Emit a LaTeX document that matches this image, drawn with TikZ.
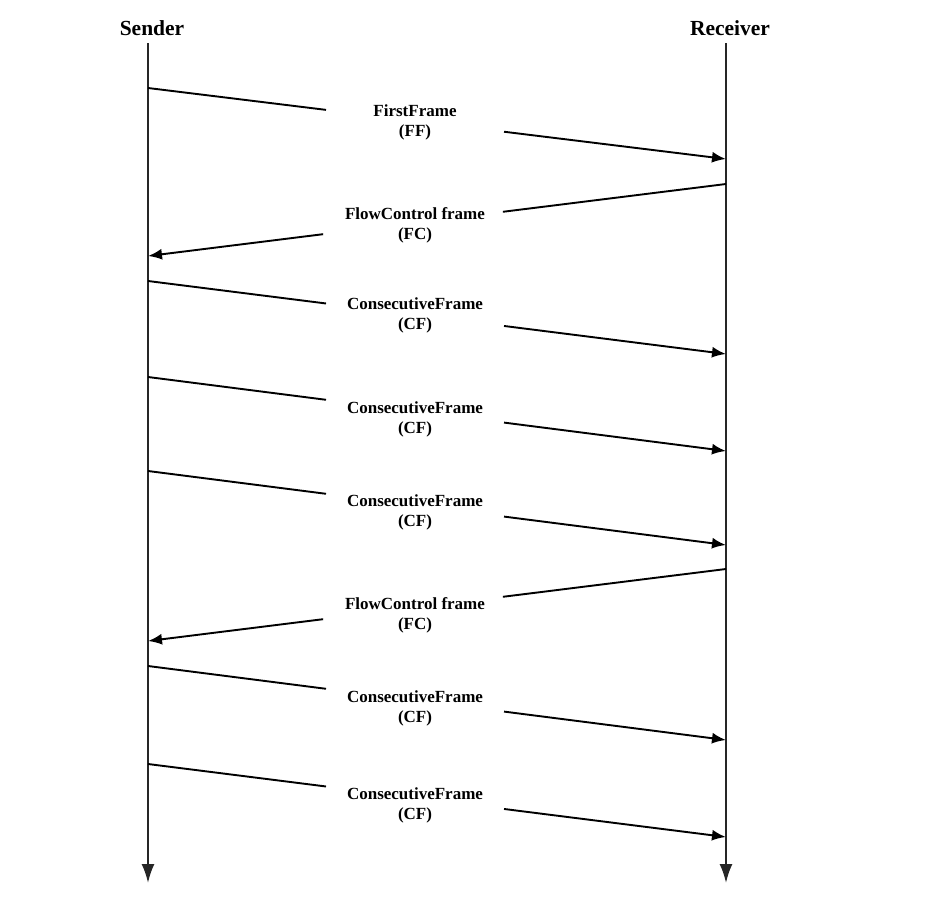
\documentclass[tikz,border=0pt]{standalone}
\usepackage{fontspec}
\setmainfont{Liberation Serif}
\usetikzlibrary{arrows.meta,calc}
\begin{document}
\begin{tikzpicture}[x=1pt,y=-1pt,
  life/.style={line width=2pt,draw=black!85,-{Latex[length=19pt,width=13pt]}},
  msg/.style={line width=1.9pt,draw=black},
  msgarrow/.style={msg,-{Latex[length=14pt,width=11pt]}},
  hdr/.style={font=\bfseries\fontsize{21.5}{24}\selectfont,inner sep=0pt},
  lbl/.style={font=\bfseries\fontsize{17}{20}\selectfont,align=center,inner sep=0pt}]
\useasboundingbox (0,0) rectangle (935,908);
\node[hdr] (sender) at (152,28) {Sender};
\node[hdr] (receiver) at (730,28) {Receiver};
\coordinate (st) at (148,43);
\coordinate (sb) at (148,883);
\coordinate (rt) at (726,43);
\coordinate (rb) at (726,883);
\draw[life] (st) -- (sb);
\draw[life] (rt) -- (rb);
% sender -> receiver
\foreach \n/\ys/\yr/\ly/\t in {
  1/88/159/122/{FirstFrame\\(FF)},
  3/281/354/315/{ConsecutiveFrame\\(CF)},
  4/377/451/419/{ConsecutiveFrame\\(CF)},
  5/471/545/512/{ConsecutiveFrame\\(CF)},
  7/666/740/708/{ConsecutiveFrame\\(CF)},
  8/764/837/805/{ConsecutiveFrame\\(CF)}}{
  \coordinate (s\n) at (148,\ys);
  \coordinate (r\n) at (726,\yr);
  \coordinate (p\n) at ($(s\n)!0.308!(r\n)$);
  \coordinate (q\n) at ($(s\n)!0.616!(r\n)$);
  \node[lbl] (l\n) at (415,\ly) {\t};
  \draw[msg] (s\n) -- (p\n);
  \draw[msgarrow] (q\n) -- (r\n);
}
% receiver -> sender
\foreach \n/\ys/\yr/\ly/\t in {
  2/256/184/225/{FlowControl frame\\(FC)},
  6/641/569/615/{FlowControl frame\\(FC)}}{
  \coordinate (s\n) at (148,\ys);
  \coordinate (r\n) at (726,\yr);
  \coordinate (p\n) at ($(s\n)!0.303!(r\n)$);
  \coordinate (q\n) at ($(s\n)!0.614!(r\n)$);
  \node[lbl] (l\n) at (415,\ly) {\t};
  \draw[msg] (r\n) -- (q\n);
  \draw[msgarrow] (p\n) -- (s\n);
}
\end{tikzpicture}
\end{document}
